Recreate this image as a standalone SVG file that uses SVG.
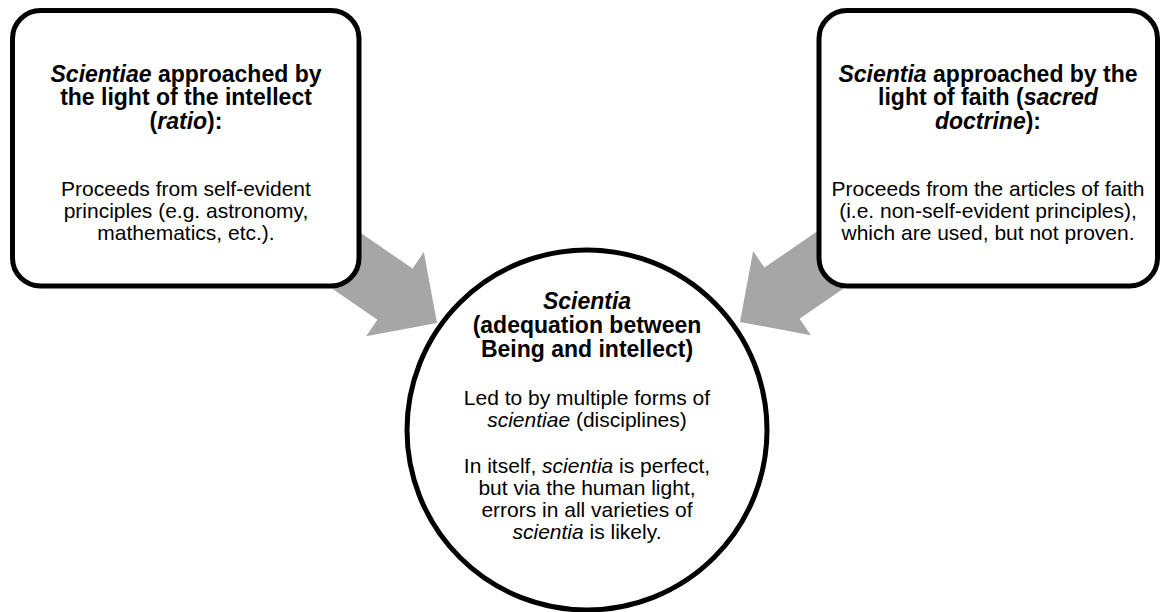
<svg xmlns="http://www.w3.org/2000/svg" width="1162" height="612" viewBox="0 0 1162 612">
<style>
.box{fill:#fff;stroke:#000;stroke-width:5}
.arrow{fill:#A6A6A6;stroke:none}
text{font-family:"Liberation Sans",Arial,sans-serif;fill:#000;text-anchor:middle}
.hs{font-size:23px;font-weight:bold}
.b{font-size:21px}
</style>
<rect width="1162" height="612" fill="#fff"/>
<g id="connectors">
<polygon class="arrow" transform="translate(437,323) rotate(34.5)" points="0,0 -51,-51 -51,-31 -200,-31 -200,31 -51,31 -51,51"/>
<polygon class="arrow" transform="translate(740,322) rotate(145.5)" points="0,0 -51,-51 -51,-31 -200,-31 -200,31 -51,31 -51,51"/>
</g>
<g id="node-ratio">
<rect class="box" x="12.5" y="10.5" width="346.5" height="275.5" rx="28"/>
<text class="hs" x="186" y="81.5"><tspan font-style="italic">Scientiae</tspan> approached by</text>
<text class="hs" x="186" y="105">the light of the intellect</text>
<text class="hs" x="186" y="128.5">(<tspan font-style="italic">ratio</tspan>):</text>
<text class="b" x="186" y="196">Proceeds from self-evident</text>
<text class="b" x="186" y="218">principles (e.g. astronomy,</text>
<text class="b" x="186" y="240">mathematics, etc.).</text>
</g>
<g id="node-faith">
<rect class="box" x="819" y="10.5" width="338.5" height="275.5" rx="28"/>
<text class="hs" x="988" y="81.5"><tspan font-style="italic">Scientia</tspan> approached by the</text>
<text class="hs" x="988" y="105">light of faith (<tspan font-style="italic">sacred</tspan></text>
<text class="hs" x="988" y="128.5"><tspan font-style="italic">doctrine</tspan>):</text>
<text class="b" x="988" y="196">Proceeds from the articles of faith</text>
<text class="b" x="988" y="218">(i.e. non-self-evident principles),</text>
<text class="b" x="988" y="240">which are used, but not proven.</text>
</g>
<g id="node-scientia">
<circle class="box" cx="587" cy="430" r="180"/>
<text class="hs" x="587" y="309" font-style="italic">Scientia</text>
<text class="hs" x="587" y="333">(adequation between</text>
<text class="hs" x="587" y="357">Being and intellect)</text>
<text class="b" x="587" y="405">Led to by multiple forms of</text>
<text class="b" x="587" y="427"><tspan font-style="italic">scientiae</tspan> (disciplines)</text>
<text class="b" x="587" y="473">In itself, <tspan font-style="italic">scientia</tspan> is perfect,</text>
<text class="b" x="587" y="495">but via the human light,</text>
<text class="b" x="587" y="517">errors in all varieties of</text>
<text class="b" x="587" y="539"><tspan font-style="italic">scientia</tspan> is likely.</text>
</g>
</svg>
